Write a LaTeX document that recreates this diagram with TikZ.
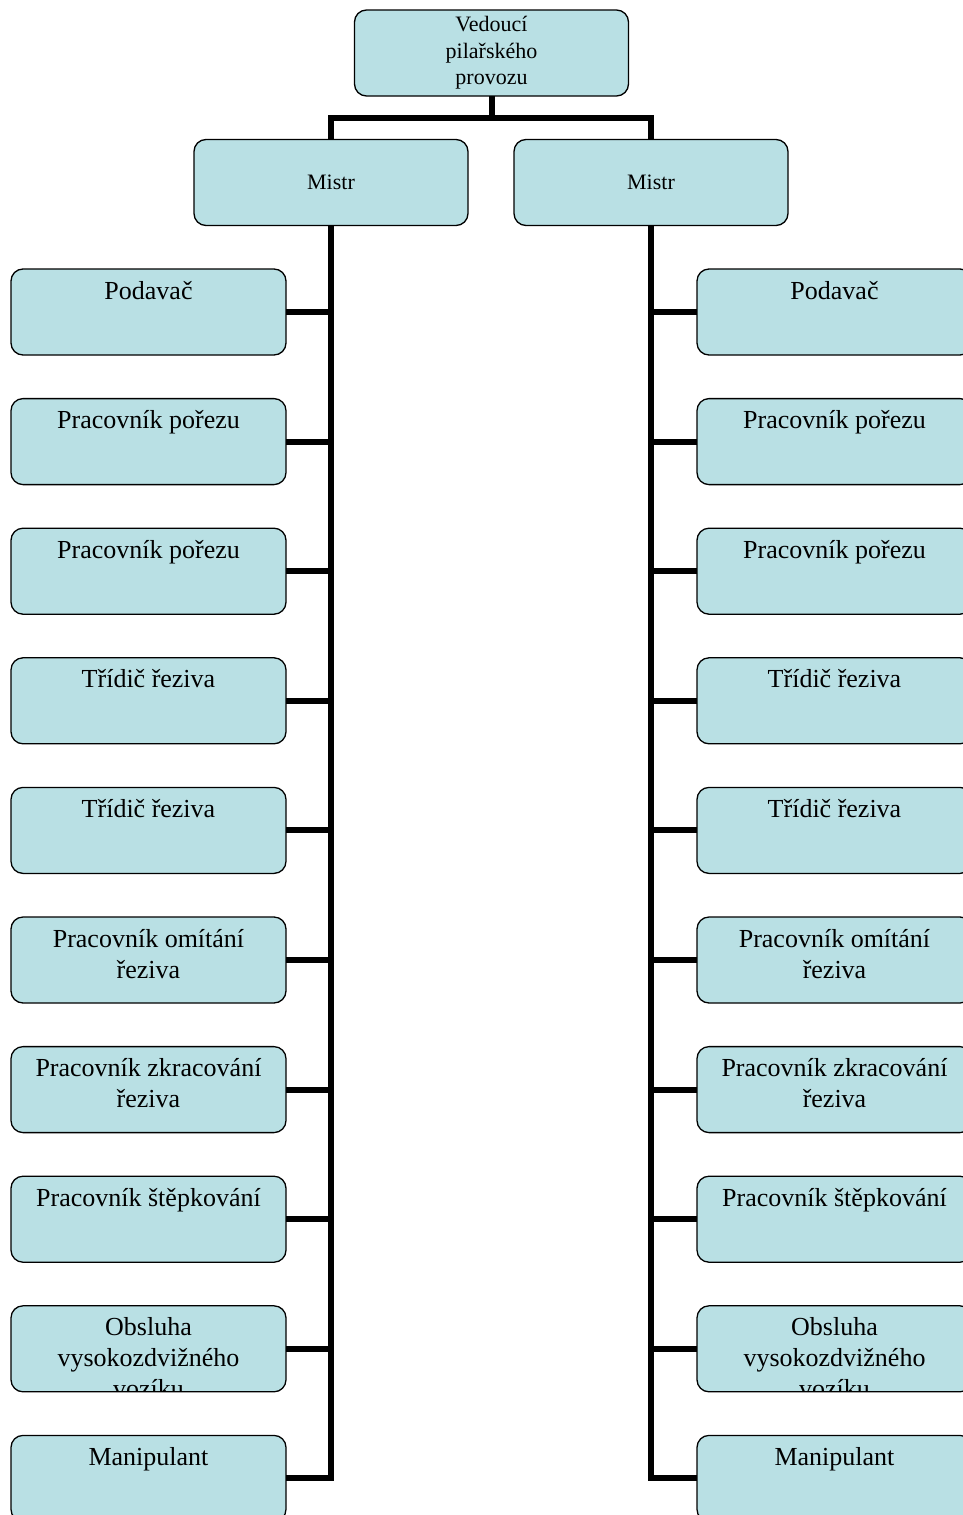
\documentclass[tikz,border=0pt]{standalone}
\usepackage{fontspec}
\setmainfont{Liberation Serif}
\definecolor{boxblue}{RGB}{185,224,228}
\begin{document}
\begin{tikzpicture}[x=1pt, y=-1pt,
    box/.style = {draw=black, line width=1.3pt, fill=boxblue, rounded corners=12pt,
                inner sep=0pt, outer sep=0pt, minimum width=274pt, minimum height=86pt,
                font=\fontsize{22}{26.5}\selectfont, align=center},
    worker/.style = {box, minimum width=275pt,
                path picture={\pgftext[base, at={\pgfpointadd
                    {\pgfpointanchor{path picture bounding box}{north}}{\pgfpoint{0pt}{-30pt}}}]
                    {\parbox[t]{272pt}{\centering\fontsize{26}{31}\selectfont #1}};}},
    conn/.style = {line width=6pt}
                    ]
        \useasboundingbox (0,0) rectangle (962,1515);
        \def\dy{129.6}
        \node[box] (head) at (491.5,53) {Vedoucí\\pilařského\\provozu};
        \node[box] (mistrL) at (331,182.5) {Mistr};
        \node[box] (mistrR) at (651,182.5) {Mistr};
        \coordinate (split) at (491.5,118);
        \draw[conn] (head.south) -- (split) -| (mistrL.north);
        \draw[conn] (split) -| (mistrR.north);
        % workers under both foremen
        \foreach \i/\t in {0/Podavač, 1/Pracovník pořezu, 2/Pracovník pořezu,
                3/Třídič řeziva, 4/Třídič řeziva, 5/Pracovník omítání\\řeziva,
                6/Pracovník zkracování\\řeziva, 7/Pracovník štěpkování,
                8/Obsluha\\vysokozdvižného\\vozíku, 9/Manipulant}
        {
            \node[worker=\t] (L\i) at (148.5,312+\i*\dy) {};
            \node[worker=\t] (R\i) at (834.5,312+\i*\dy) {};
        }
        \draw[conn] (mistrL.south) |- (L9.east);
        \draw[conn] (mistrR.south) |- (R9.west);
        \foreach \i in {0,...,8}
        {
            \draw[conn] (L\i.east) -- (L\i.east -| mistrL.south);
            \draw[conn] (R\i.west) -- (R\i.west -| mistrR.south);
        }
    \end{tikzpicture}
\end{document}
